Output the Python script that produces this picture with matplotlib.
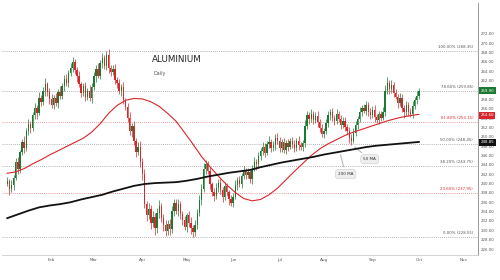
import numpy as np
import pandas as pd
import matplotlib
matplotlib.use('Agg')
import matplotlib.pyplot as plt
from matplotlib.transforms import blended_transform_factory

# daily closes, Jan 3 .. Oct 3
closes = [240.5, 238.8, 239.6, 241.2, 244.6, 243.1, 246.8, 248.9, 247.6, 251.2,
          252.8, 251.9, 254.6, 256.2, 255.1, 258.3, 257.4, 259.8, 261.2, 259.6,
          258.1, 256.9, 258.4, 257.2, 259.6, 258.8, 260.9, 262.4, 261.5, 263.7,
          264.8, 266.1, 264.3, 262.9, 261.2, 259.4, 260.8, 258.6, 259.9, 258.2,
          260.7, 262.9, 264.6, 263.1, 265.8, 266.9, 265.2, 267.4, 264.8, 263.9,
          264.6, 262.2, 261.4, 259.8, 260.6, 257.9, 256.4, 254.1, 251.2, 252.3,
          249.1, 246.8, 247.9, 244.6, 242.1, 235.6, 233.2, 234.5, 231.6, 232.9,
          230.4, 233.8, 235.2, 232.6, 231.1, 229.8, 231.4, 230.2, 234.1, 235.9,
          234.2, 235.6, 233.4, 232.1, 230.8, 233.2, 231.6, 230.4, 229.6, 231.2,
          233.8, 236.4, 238.9, 243.2, 244.1, 242.6, 239.8, 238.2, 237.4, 239.1,
          240.2, 238.6, 237.1, 239.4, 238.2, 236.6, 235.8, 237.2, 239.6, 240.8,
          239.9, 241.6, 242.8, 241.9, 242.4, 240.9, 243.2, 244.6, 244.1, 245.8,
          246.9, 247.8, 246.6, 248.4, 248.9, 247.6, 248.2, 249.8, 249.1, 247.6,
          248.9, 247.2, 248.6, 247.9, 249.2, 248.4, 247.6, 249.1, 248.2, 247.8,
          248.6, 252.4, 254.6, 253.8, 254.9, 253.6, 254.4, 253.1, 251.8, 250.6,
          251.2, 252.9, 254.6, 255.2, 254.1, 253.4, 254.8, 253.9, 252.6, 253.4,
          252.1, 251.2, 249.8, 249.2, 250.9, 252.6, 253.8, 255.4, 256.2, 255.6,
          256.8, 255.2, 254.6, 255.8, 254.2, 253.6, 254.8, 254.1, 255.3, 259.8,
          261.4, 260.2, 261.1, 259.4, 258.6, 257.2, 258.4, 256.1, 255.2, 256.8,
          255.4, 254.9, 256.6, 257.9, 258.8, 259.9]
first_open = 240.0

upper_wick = [0.8, 0.5, 1.2, 0.6, 0.9, 1.1, 0.4, 0.7, 1.3, 0.6,
              0.9, 0.5, 0.8, 1.0, 0.6, 1.2, 0.7, 0.9, 1.4, 0.5,
              0.8, 1.1, 0.6, 0.9, 0.7, 1.2, 0.5, 0.8, 1.0, 0.6,
              0.9, 1.0, 0.6, 0.7, 1.2, 0.5, 0.8, 0.9, 0.6, 1.1,
              0.7, 0.9, 0.8, 1.2, 0.6, 1.0, 0.7, 0.9, 1.3, 0.6,
              0.8, 1.0, 0.6, 0.9, 0.7, 1.1, 0.5, 0.8, 1.2, 0.7,
              1.0, 0.6, 0.9, 1.3, 0.8, 1.1, 0.7, 1.4, 0.9, 1.2,
              0.8, 1.0, 1.3, 0.6, 0.9, 1.1, 0.7, 1.0, 1.2, 0.8,
              0.9, 1.1, 0.7, 0.8, 1.0, 0.6, 0.9, 1.2, 0.7, 1.0,
              0.8, 1.1, 0.9, 1.2, 0.9, 0.7, 1.0, 0.6, 0.8, 1.1,
              0.7, 0.9, 0.6, 1.0, 0.8, 0.5, 0.9, 0.7, 1.1, 0.6,
              0.8, 0.7, 1.0, 0.5, 0.9, 0.6, 0.8, 1.1, 0.7, 0.9,
              0.6, 1.0, 0.8, 0.7, 1.2, 0.6, 0.9, 0.7, 1.0, 0.8,
              0.6, 0.9, 0.7, 1.0, 0.5, 0.8, 0.9, 0.6, 1.0, 0.7,
              0.8, 1.1, 0.9, 0.7, 1.0, 0.6, 0.8, 1.1, 0.7, 0.9,
              0.6, 0.8, 1.0, 0.7, 0.9, 0.6, 1.1, 0.8, 0.7, 0.9,
              0.8, 0.6, 1.0, 0.7, 0.9, 0.8, 0.6, 1.0, 0.7, 0.9,
              0.8, 0.6, 1.0, 0.7, 0.9, 0.6, 0.8, 0.7, 1.0, 1.2,
              1.4, 0.8, 1.1, 0.7, 0.9, 0.6, 1.0, 0.8, 0.7, 0.9,
              0.6, 0.8, 1.0, 0.7, 0.9, 0.6]
lower_wick = [0.6, 1.2, 0.7, 0.9, 0.5, 1.0, 0.8, 0.6, 1.1, 0.7,
              0.8, 1.0, 0.6, 0.9, 1.2, 0.5, 0.8, 0.7, 1.0, 0.9,
              1.1, 0.7, 0.9, 0.6, 1.0, 0.8, 0.7, 1.2, 0.6, 0.9,
              0.7, 1.0, 0.8, 1.1, 0.6, 0.9, 0.7, 1.0, 0.8, 0.6,
              0.9, 0.7, 1.1, 0.6, 0.8, 1.0, 0.7, 0.9, 1.2, 0.8,
              0.7, 0.9, 1.0, 0.6, 1.1, 0.8, 0.7, 1.0, 0.9, 1.2,
              0.8, 1.1, 0.7, 1.0, 1.3, 0.9, 1.2, 0.8, 1.4, 1.0,
              1.5, 0.9, 1.1, 0.8, 1.2, 1.0, 0.9, 1.3, 0.7, 1.0,
              0.8, 1.2, 0.9, 1.0, 0.7, 1.1, 0.8, 1.2, 1.0, 0.9,
              1.0, 0.7, 0.9, 0.8, 1.1, 0.6, 1.0, 0.8, 1.2, 0.7,
              0.9, 0.8, 1.0, 0.6, 0.9, 1.1, 0.7, 0.8, 0.6, 1.0,
              0.7, 0.9, 0.6, 1.0, 0.8, 0.7, 0.9, 0.6, 1.1, 0.8,
              0.7, 0.9, 1.0, 0.6, 0.8, 0.9, 0.7, 1.0, 0.6, 0.8,
              0.9, 0.7, 0.8, 1.0, 0.6, 0.9, 0.8, 0.7, 1.0, 0.6,
              0.9, 0.7, 0.8, 1.0, 0.6, 0.9, 0.7, 1.1, 0.8, 0.7,
              0.9, 0.6, 0.8, 1.0, 0.7, 0.9, 0.6, 0.8, 1.0, 0.7,
              0.9, 0.7, 1.1, 1.0, 0.6, 0.8, 0.9, 0.7, 1.0, 0.6,
              0.9, 0.7, 0.8, 0.6, 1.0, 0.7, 0.9, 0.8, 0.6, 0.9,
              0.7, 1.0, 0.8, 0.9, 0.6, 1.0, 0.7, 0.9, 1.1, 0.8,
              0.9, 0.7, 0.8, 0.6, 0.9, 0.7]

# moving averages, every 4th / 5th bar
ma50_idx = [0, 4, 8, 12, 16, 20, 24, 28, 32, 36, 40, 44, 48, 52, 56, 60, 64, 68, 72, 76,
            80, 84, 88, 92, 96, 100, 104, 108, 112, 116, 120, 124, 128, 132, 136, 140, 144, 148,
            152, 156, 160, 164, 168, 172, 176, 180, 184, 188, 192, 195]
ma50_val = [242.2, 242.5, 243.2, 244.2, 245.1, 246.1, 247.0, 247.9, 248.8, 249.7, 251.0, 252.8,
            255.0, 256.7, 257.8, 258.2, 258.1, 257.5, 256.5, 255.0, 253.3, 250.9, 248.4, 245.8,
            243.6, 241.6, 239.7, 238.1, 236.8, 236.3, 236.6, 237.6, 239.0, 240.8, 242.6, 244.3,
            246.0, 247.4, 248.5, 249.4, 250.3, 251.0, 251.6, 252.2, 252.8, 253.4, 253.9, 254.3,
            254.6, 254.8]
ma200_idx = [0, 5, 10, 15, 20, 25, 30, 35, 40, 45, 50, 55, 60, 65, 70, 75, 80, 85, 90, 95,
             100, 105, 110, 115, 120, 125, 130, 135, 140, 145, 150, 155, 160, 165, 170, 175,
             180, 185, 190, 195]
ma200_val = [232.6, 233.4, 234.2, 234.9, 235.3, 235.6, 236.0, 236.6, 237.1, 237.6, 238.3, 238.9,
             239.5, 239.9, 240.1, 240.2, 240.3, 240.6, 241.0, 241.5, 241.9, 242.3, 242.6, 242.9,
             243.5, 244.0, 244.5, 244.9, 245.3, 245.7, 246.2, 246.6, 247.0, 247.4, 247.8, 248.1,
             248.3, 248.5, 248.7, 248.9]

fib_pct = ['100.00%', '78.60%', '61.80%', '50.00%', '38.20%', '23.60%', '0.00%']
fib_val = [268.35, 259.85, 253.15, 248.45, 243.75, 237.95, 228.55]
fib_red = [False, False, True, False, False, True, False]

months = ['Feb', 'Mar', 'Apr', 'May', 'Jun', 'Jul', 'Aug', 'Sep', 'Oct', 'Nov']

days = pd.bdate_range('2022-01-03', '2022-11-30')
n = len(closes)
opens = [first_open] + closes[:-1]
highs = [max(o, c) + w for o, c, w in zip(opens, closes, upper_wick)]
lows = [min(o, c) - w for o, c, w in zip(opens, closes, lower_wick)]

GREEN = '#1b7a32'
RED = '#d8262b'

fig = plt.figure(figsize=(5, 2.8), dpi=100)
ax = fig.add_axes([0.004, 0.089, 0.952, 0.9])

x = np.arange(n)
cols = [GREEN if c >= o else RED for o, c in zip(opens, closes)]
ax.vlines(x, lows, highs, colors=cols, lw=0.5, zorder=3)
ax.bar(x, [max(abs(c - o), 0.15) for o, c in zip(opens, closes)],
       bottom=[min(o, c) for o, c in zip(opens, closes)],
       width=0.65, color=cols, lw=0, zorder=4)

ax.plot(ma50_idx, ma50_val, color='#d8262b', lw=0.8, zorder=5)
ax.plot(ma200_idx, ma200_val, color='#111111', lw=1.3, zorder=5)

tr = blended_transform_factory(ax.transAxes, ax.transData)
for p, v, r in zip(fib_pct, fib_val, fib_red):
    c = '#e07a7a' if r else '#9a9a9a'
    ax.axhline(v, color=c, lw=0.6, ls=(0, (1, 1.5)), zorder=1)
    ax.text(0.99, v + 0.35, '%s (%.2f)' % (p, v), transform=tr,
            ha='right', va='bottom', fontsize=2.8, color='#d8262b' if r else '#555555')

ax.set_xlim(-2.5, 223)
ax.set_ylim(224.7, 278.6)

# month ticks
pos = []
for m in range(2, 12):
    pos.append(int(np.where(days.month == m)[0][0]))
ax.set_xticks(pos)
ax.set_xticklabels(months, fontsize=3, color='#555555')
ax.yaxis.tick_right()
ax.set_yticks(np.arange(226, 273, 2))
ax.set_yticklabels(['%.2f' % t for t in np.arange(226, 273, 2)], fontsize=2.8, color='#555555')
ax.tick_params(length=0, pad=2)
for s in ['top', 'left']:
    ax.spines[s].set_visible(False)
ax.spines['right'].set_color('#888888')
ax.spines['right'].set_linewidth(0.6)
ax.spines['bottom'].set_color('#cccccc')
ax.spines['bottom'].set_linewidth(0.6)

# price tags on the axis
for v, c in [(259.90, GREEN), (254.60, RED), (248.85, '#111111')]:
    ax.text(1.005, v, '%.2f' % v, transform=tr, ha='left', va='center', fontsize=2.8, color='white',
            bbox=dict(boxstyle='square,pad=0.4', fc=c, ec='none'), clip_on=False, zorder=6)

# callouts
box = dict(boxstyle='round,pad=0.6', fc='#eeeeee', ec='#cccccc', lw=0.4)
ax.annotate('50 MA', xy=(163.6, 248.2), xytext=(171.7, 245.2), fontsize=3, ha='center', va='center',
            color='#333333', bbox=box, arrowprops=dict(arrowstyle='-', color='#bbbbbb', lw=0.8))
ax.annotate('200 MA', xy=(157.5, 246.7), xytext=(160.3, 242.0), fontsize=3, ha='center', va='center',
            color='#333333', bbox=box, arrowprops=dict(arrowstyle='-', color='#bbbbbb', lw=0.8))

fig.text(152 / 500, 1 - 60 / 280, 'ALUMINIUM', fontsize=6.3, ha='left', va='center', color='#222222')
fig.text(153 / 500, 1 - 73 / 280, 'Daily', fontsize=3.5, ha='left', va='center', color='#555555')

fig.savefig('out.png', dpi=100)
